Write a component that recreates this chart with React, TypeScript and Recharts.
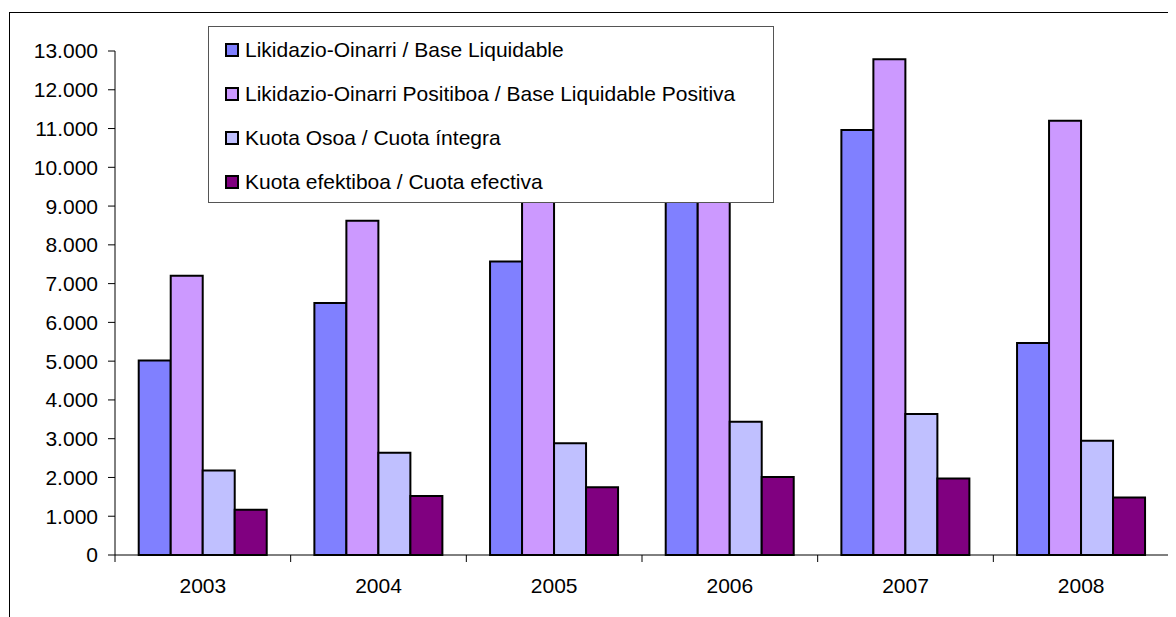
import React from 'react';
import { BarChart, Bar, XAxis, YAxis, Legend } from 'recharts';

const years = ['2003', '2004', '2005', '2006', '2007', '2008'];
const baseLiquidable = [5020, 6500, 7570, 9500, 10960, 5470];
const basePositiva = [7200, 8620, 9700, 11000, 12790, 11200];
const cuotaIntegra = [2180, 2640, 2880, 3440, 3640, 2950];
const cuotaEfectiva = [1170, 1520, 1750, 2010, 1970, 1480];
const yTicks = [0, 1000, 2000, 3000, 4000, 5000, 6000, 7000, 8000, 9000, 10000, 11000, 12000, 13000];

const seriesNames = [
  'Likidazio-Oinarri / Base Liquidable',
  'Likidazio-Oinarri Positiboa / Base Liquidable Positiva',
  'Kuota Osoa / Cuota íntegra',
  'Kuota efektiboa / Cuota efectiva',
];
const seriesColors = ['#8080ff', '#cc99ff', '#c0c0ff', '#800080'];

const data = years.map((year, i) => ({
  year,
  s0: baseLiquidable[i],
  s1: basePositiva[i],
  s2: cuotaIntegra[i],
  s3: cuotaEfectiva[i],
}));

// layout
const W = 1168;
const H = 609;
const MARGIN = { top: 43, right: 7, bottom: 22, left: 0 };
const Y_AXIS_W = 107;
const X_AXIS_H = 40;
const AXIS_Y = H - MARGIN.bottom - X_AXIS_H;
const BAND = (W - MARGIN.left - Y_AXIS_W - MARGIN.right) / years.length;
const FONT = '"Liberation Sans", Arial, sans-serif';

const fmt = (v: number) => String(v).replace(/\B(?=(\d{3})+(?!\d))/g, '.');

const YearTick = (props: any) => {
  const { x, payload, index } = props;
  const half = BAND / 2;
  return (
    <g>
      {index === 0 && (
        <line x1={x - half} x2={x - half} y1={AXIS_Y} y2={AXIS_Y + 7} stroke="#000" />
      )}
      <line x1={x + half} x2={x + half} y1={AXIS_Y} y2={AXIS_Y + 7} stroke="#000" />
      <text
        x={x}
        y={AXIS_Y + 30}
        textAnchor="middle"
        dominantBaseline="central"
        fontSize={21}
        fontFamily={FONT}
        fill="#000"
      >
        {payload.value}
      </text>
    </g>
  );
};

const renderLegend = () => (
  <div
    style={{
      width: 548,
      height: 174,
      border: '1px solid #555',
      background: '#fff',
      paddingTop: 1,
      paddingLeft: 16,
      fontFamily: FONT,
      fontSize: 21,
      color: '#000',
    }}
  >
    {seriesNames.map((name, i) => (
      <div key={name} style={{ display: 'flex', alignItems: 'center', height: 44, whiteSpace: 'nowrap' }}>
        <span
          style={{
            display: 'inline-block',
            width: 14,
            height: 14,
            boxSizing: 'border-box',
            border: '2px solid #000',
            background: seriesColors[i],
            marginRight: 6,
          }}
        />
        {name}
      </div>
    ))}
  </div>
);

export default function App() {
  return (
    <div style={{ position: 'relative', width: W, height: H, background: '#fff' }}>
      <div
        style={{
          position: 'absolute',
          left: 1,
          top: 4,
          width: W,
          height: H,
          borderTop: '1px solid #000',
          borderLeft: '1px solid #000',
        }}
      />
      <div style={{ position: 'absolute', left: 0, top: 0 }}>
        <BarChart
          width={W}
          height={H}
          data={data}
          margin={MARGIN}
          barCategoryGap="13.5%"
          barGap={0}
        >
          <YAxis
            width={Y_AXIS_W}
            domain={[0, 13000]}
            ticks={yTicks}
            interval={0}
            tickFormatter={fmt}
            axisLine={{ stroke: '#000' }}
            tickLine={{ stroke: '#000' }}
            tickSize={7}
            tickMargin={10}
            tick={{ fill: '#000', fontSize: 21, fontFamily: FONT }}
          />
          <XAxis
            dataKey="year"
            height={X_AXIS_H}
            axisLine={{ stroke: '#000' }}
            tickLine={false}
            interval={0}
            tick={<YearTick />}
          />
          <Legend
            layout="horizontal"
            align="center"
            verticalAlign="middle"
            content={renderLegend}
            wrapperStyle={{ left: 200, top: 18, width: 550, height: 176 }}
          />
          {seriesNames.map((name, i) => (
            <Bar
              key={name}
              dataKey={`s${i}`}
              name={name}
              fill={seriesColors[i]}
              stroke="#000"
              strokeWidth={2}
              isAnimationActive={false}
            />
          ))}
        </BarChart>
      </div>
    </div>
  );
}
